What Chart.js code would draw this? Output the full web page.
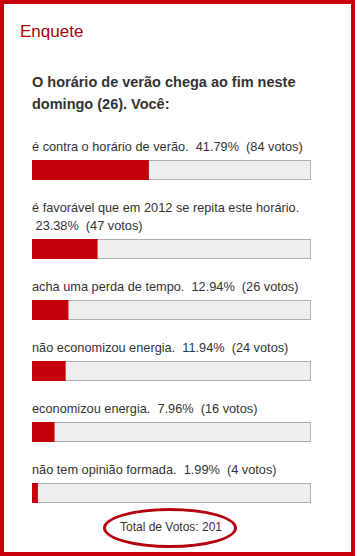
<!DOCTYPE html>
<html>
<head>
<meta charset="utf-8">
<script src="https://cdn.jsdelivr.net/npm/chart.js@4/dist/chart.umd.min.js"></script>
<style>
    body { margin: 0; background: #fff; }
    #box {
        position: relative; box-sizing: border-box;
        width: 355px; height: 556px;
        border: 4px solid #c8000b; background: #fff;
        font-family: "Liberation Sans", Arial, sans-serif;
    }
    h1 { position: absolute; left: 16px; top: 18px; margin: 0; font-size: 17px; font-weight: normal; color: #a8000d; line-height: 20px; }
    .question { position: absolute; left: 28px; top: 67px; width: 282px; margin: 0; font-size: 14.5px; font-weight: bold; color: #333; line-height: 22px; }
    #rows { position: absolute; left: 28px; top: 134px; width: 282px; }
    .label { font-size: 12.75px; color: #333; line-height: 18px; }
    .bar { position: relative; width: 279px; height: 20px; margin: 4px 0 19px 0; }
    .total { position: absolute; left: 0; width: 334px; top: 516px; text-align: center; font-size: 12px; color: #333; }
    .ring { position: absolute; left: 99px; top: 504px; width: 128px; height: 34px; border: 3px solid #b3000c; border-radius: 50%; }
</style>
</head>
<body>
<div id="box">
    <h1>Enquete</h1>
    <p class="question">O horário de verão chega ao fim neste domingo (26). Você:</p>
    <div id="rows"></div>
    <div class="ring"></div>
    <div class="total" id="total"></div>
</div>
<script>
// respostas da enquete
const options = [
    'é contra o horário de verão.',
    'é favorável que em 2012 se repita este horário.',
    'acha uma perda de tempo.',
    'não economizou energia.',
    'economizou energia.',
    'não tem opinião formada.'
];
const percents = [41.79, 23.38, 12.94, 11.94, 7.96, 1.99];
const votes = [84, 47, 26, 24, 16, 4];
const totalVotes = 201;

const rows = document.getElementById('rows');
options.forEach((opt, i) => {
    const label = document.createElement('div');
    label.className = 'label';
    label.textContent = opt + ' \u00a0' + percents[i].toFixed(2) + '% \u00a0(' + votes[i] + ' votos)';
    rows.appendChild(label);

    const wrap = document.createElement('div');
    wrap.className = 'bar';
    const canvas = document.createElement('canvas');
    wrap.appendChild(canvas);
    rows.appendChild(wrap);

    new Chart(canvas, {
        type: 'bar',
        data: {
            labels: [opt],
            datasets: [
                { data: [percents[i]], backgroundColor: '#c4000b', borderWidth: 0, order: 0 },
                { data: [100], backgroundColor: '#eeeeee', borderColor: '#999999', borderWidth: 1, order: 1 }
            ]
        },
        options: {
            indexAxis: 'y',
            responsive: true,
            maintainAspectRatio: false,
            animation: false,
            layout: { padding: 0 },
            datasets: { bar: { grouped: false, barPercentage: 1, categoryPercentage: 1, borderSkipped: false } },
            plugins: { legend: { display: false }, tooltip: { enabled: false } },
            scales: {
                x: { display: false, min: 0, max: 100 },
                y: { display: false }
            }
        }
    });
});

document.getElementById('total').textContent = 'Total de Votos: ' + totalVotes;
</script>
</body>
</html>
